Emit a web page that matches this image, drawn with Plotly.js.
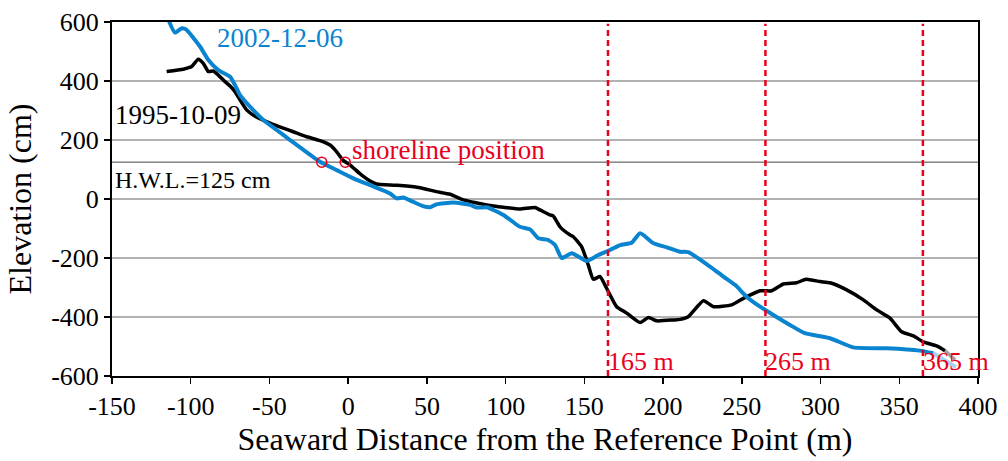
<!DOCTYPE html>
<html>
<head>
<meta charset="utf-8">
<script src="https://cdn.plot.ly/plotly-3.0.1.min.js"></script>
<style>html,body{margin:0;padding:0;background:#fff}#chart{width:1008px;height:461px}</style>
</head>
<body>
<div id="chart"></div>
<script>
// 1995-10-09 profile
var dist1995 = [-115.3,-104.7,-99.4,-95.2,-92,-88.8,-85.7,-82.5,-78.2,-75,-71.9,-68.7,-64.5,-58,-49.6,-41.2,-34.9,-26.3,-17.9,-11.5,-7.3,-3,1.3,7.6,13.9,18.1,28.7,37.2,45.6,56,64.7,73.1,79.5,88,98.6,109,118.6,121.8,128.2,130.3,134.5,136.6,141,143,148.3,152.5,155.7,160,163.1,166.3,170.5,176.9,185.4,190.7,196,206.5,210.8,216,225.6,232,243.6,251,261.6,269,276.4,284.8,290.8,299.7,306,316.6,327.2,335.7,344.1,351.5,358.9,365.2,373.7,379];
var elev1995 = [432,440,449,474,460,432,434,420,398,383,364,336,302,277,257,240,228,211,198,183,160,130,115,85,61,51,47,44,38,25,16,-3,-11,-20,-28,-34,-29,-37,-54,-58,-94,-105,-122,-128,-162,-224,-272,-263,-292,-325,-365,-387,-419,-402,-413,-410,-408,-399,-345,-365,-359,-337,-311,-311,-288,-284,-272,-280,-284,-308,-342,-376,-404,-450,-464,-484,-498,-514];
var tail1995Dist = [379,385.5];
var tail1995Elev = [-514,-546];

// 2002-12-06 profile
var dist2002 = [-115.7,-110,-105.7,-103,-94,-88.8,-82.5,-75,-71.9,-68.7,-62.4,-53.9,-45.4,-37,-30.6,-17.9,-7.3,3.3,13.9,26.6,30.8,35,41,47.5,52,56,66.8,77.4,81.6,88,98.6,109,115.5,120.8,127,131.4,135.6,142,151.5,158.9,166.3,172.7,180,185.4,193.9,202.4,210.8,216,229.8,238.3,245.7,253,261.6,270,280.6,290.1,306,320.8,342,363,371.6];
var elev2002 = [627,564,579,575,516,471,437,415,386,352,313,268,234,200,175,126,98,70,47,19,2,5,-9,-24,-28,-18,-12,-20,-29,-28,-54,-94,-103,-133,-139,-156,-200,-184,-210,-190,-173,-156,-148,-116,-150,-164,-179,-180,-229,-263,-291,-331,-365,-393,-427,-455,-472,-503,-506,-514,-523];
var tail2002Dist = [371.6,386];
var tail2002Elev = [-523,-570];

// shoreline positions (intersection with H.W.L.)
var shoreDist = [-16.8,-1.9];
var shoreElev = [125,125];
var hwl = 125;

// reference distances
var refDist = [165,265,365];
var refLabels = ['165 m','265 m','365 m'];

var xTickVals = [-150,-100,-50,0,50,100,150,200,250,300,350,400];
var xTickText = ['-150','-100','-50','0','50','100','150','200','250','300','350','400'];
var yTickVals = [-600,-400,-200,0,200,400,600];
var yTickText = ['-600','-400','-200','0','200','400','600'];

var FONT = 'Liberation Serif';
var RED = '#e8001c';
var BLUE = '#0b84d0';

var traces = [
  {x: tail1995Dist, y: tail1995Elev, mode:'lines', line:{color:'#a0a0a0', width:3.5}, hoverinfo:'skip'},
  {x: tail2002Dist, y: tail2002Elev, mode:'lines', line:{color:'#a9d1ef', width:4}, hoverinfo:'skip'},
  {x: dist1995, y: elev1995, mode:'lines', line:{color:'#000000', width:3.5, shape:'spline', smoothing:0.5}, name:'1995-10-09'},
  {x: dist2002, y: elev2002, mode:'lines', line:{color:BLUE, width:4, shape:'spline', smoothing:0.5}, name:'2002-12-06'},
  {x: shoreDist, y: shoreElev, mode:'markers', marker:{symbol:'circle-open', size:10, color:RED, line:{color:RED, width:1.5}}, name:'shoreline'}
];

var shapes = [{
  type:'line', xref:'paper', x0:0, x1:1, yref:'y', y0:hwl, y1:hwl,
  line:{color:'#444444', width:1}, layer:'below'
}];
refDist.forEach(function(d){
  shapes.push({type:'line', xref:'x', x0:d, x1:d, yref:'paper', y0:0, y1:0.995,
    line:{color:RED, width:2.5, dash:'6px,4px'}, layer:'above'});
});

var annotations = [
  {x:-43.3, y:546, xref:'x', yref:'y', text:'2002-12-06', showarrow:false, xanchor:'center', yanchor:'middle', font:{family:FONT, size:27, color:BLUE}},
  {x:-150, y:285, xref:'x', yref:'y', text:'1995-10-09', showarrow:false, xanchor:'left', yanchor:'middle', xshift:1, font:{family:FONT, size:27, color:'#000'}},
  {x:-150, y:64, xref:'x', yref:'y', text:'H.W.L.=125 cm', showarrow:false, xanchor:'left', yanchor:'middle', xshift:1, font:{family:FONT, size:24, color:'#000'}},
  {x:1.3, y:166, xref:'x', yref:'y', text:'shoreline position', showarrow:false, xanchor:'left', yanchor:'middle', font:{family:FONT, size:27, color:RED}}
];
refDist.forEach(function(d, i){
  annotations.push({x:d, y:-600, xref:'x', yref:'y', text:refLabels[i], showarrow:false,
    xanchor:'left', yanchor:'bottom', xshift:-2, yshift:-2, font:{family:FONT, size:26, color:RED}});
});

var layout = {
  width:1008, height:461,
  margin:{l:112, r:30, t:22, b:85},
  paper_bgcolor:'#fff', plot_bgcolor:'#fff',
  showlegend:false,
  font:{family:FONT, color:'#000'},
  xaxis:{
    range:[-150,400], tickvals:xTickVals, ticktext:xTickText,
    showgrid:false, zeroline:false,
    showline:true, linecolor:'#000', linewidth:2, mirror:true,
    ticks:'outside', ticklen:6, tickwidth:1.5, tickcolor:'#000',
    tickfont:{family:FONT, size:26, color:'#000'},
    title:{text:'Seaward Distance from the Reference Point (m)', font:{family:FONT, size:32, color:'#000'}, standoff:6}
  },
  yaxis:{
    range:[-600,600], tickvals:yTickVals, ticktext:yTickText,
    showgrid:true, gridcolor:'#b3b3b3', gridwidth:1.5, zeroline:false,
    showline:true, linecolor:'#000', linewidth:2, mirror:true,
    ticks:'outside', ticklen:6, tickwidth:1.5, tickcolor:'#000',
    tickfont:{family:FONT, size:26, color:'#000'},
    title:{text:'Elevation (cm)', font:{family:FONT, size:32, color:'#000'}, standoff:10}
  },
  shapes:shapes,
  annotations:annotations
};

Plotly.newPlot('chart', traces, layout, {staticPlot:true, displayModeBar:false});
</script>
</body>
</html>
